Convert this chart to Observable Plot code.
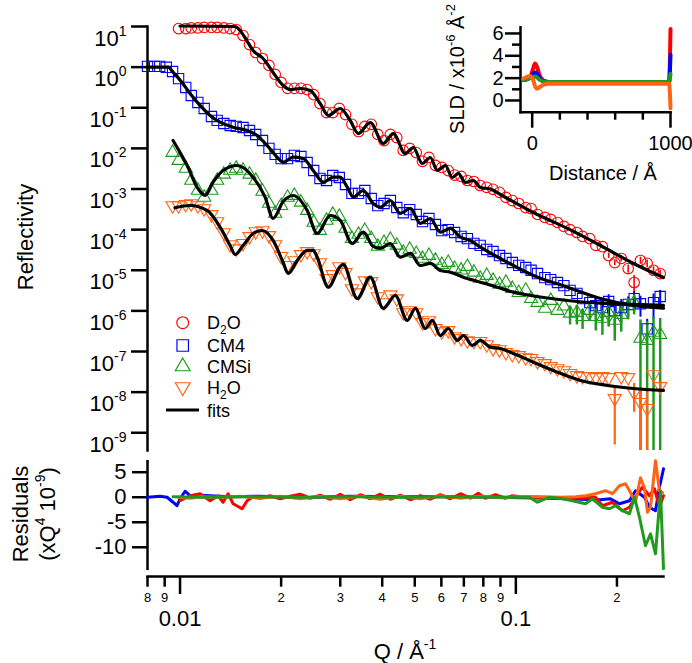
<!DOCTYPE html>
<html><head><meta charset="utf-8">
<script src="https://cdn.jsdelivr.net/npm/d3@7"></script>
<script src="https://cdn.jsdelivr.net/npm/@observablehq/plot@0.6"></script>
<style>
body{margin:0;background:#fff;}
#wrap{position:relative;width:692px;height:663px;overflow:hidden;background:#fff;}
#wrap svg{position:absolute;background:transparent;}
</style></head><body><div id="wrap"></div>
<script>
const FONT = '"Liberation Sans", Arial, Helvetica, sans-serif';
const RED = "#ff0000", BLUE = "#0000ff", GREEN = "#1f9a1f", ORANGE = "#ff6414";

// ---------- data: measured reflectivity (shared Q grid) ----------
const qData = [0.0080,0.0084,0.0087,0.0091,0.0095,0.0099,0.0104,0.0108,0.0113,0.0118,0.0124,0.0129,0.0135,0.0141,0.0147,0.0154,0.0161,0.0168,0.0176,0.0184,0.0192,0.0200,0.0209,0.0219,0.0229,0.0239,0.0250,0.0261,0.0273,0.0285,0.0298,0.0311,0.0325,0.0340,0.0355,0.0371,0.0388,0.0405,0.0423,0.0442,0.0462,0.0483,0.0505,0.0527,0.0551,0.0576,0.0602,0.0629,0.0657,0.0687,0.0717,0.0750,0.0783,0.0819,0.0855,0.0894,0.0934,0.0976,0.102,0.107,0.111,0.116,0.122,0.127,0.133,0.139,0.145,0.152,0.158,0.166,0.173,0.181,0.189,0.197,0.206,0.216,0.225,0.235,0.246,0.257,0.269];

const rD2O = [null,null,null,null,null,
 8.9,8.9,9.2,9.2,9.5,9.5,9.5,9.2,8.9,8.4,
 6.0,3.6,2.29,1.63,1.10,0.66,0.42,0.30,0.30,0.30,
 0.28,0.21,0.127,0.076,0.076,0.096,0.068,0.039,0.026,0.0347,
 0.039,0.022,0.0156,0.022,0.0185,0.0089,0.0100,0.0079,0.0048,0.0060,
 0.0038,0.0034,0.00285,0.0022,0.00204,0.00162,0.00153,0.00122,0.0011,9.8e-4,
 8.3e-4,6.2e-4,5.2e-4,4.4e-4,3.5e-4,3.3e-4,2.36e-4,2.0e-4,1.78e-4,1.5e-4,
 1.2e-4,1.0e-4,8.5e-5,6.8e-5,6.0e-5,4.1e-5,3.8e-5,2.3e-5,1.55e-5,1.95e-5,
 1.1e-5,5.0e-6,1.74e-5,1.48e-5,1.0e-5,8.3e-6];

const rCM4 = [1.04,1.04,1.04,0.99,0.78,0.52,0.316,0.20,0.135,0.096,
 0.061,0.049,0.041,0.0366,0.0347,0.0327,0.0275,0.022,0.0156,0.0100,
 0.0071,0.0056,0.0056,0.0067,0.0063,0.0045,0.00286,0.00182,0.00162,0.00215,
 0.00192,0.00129,7.8e-4,7.8e-4,9.2e-4,5.85e-4,3.9e-4,4.4e-4,5.2e-4,3.5e-4,
 2.6e-4,3.1e-4,2.36e-4,1.58e-4,1.88e-4,1.34e-4,9.5e-5,1.0e-4,8.5e-5,6.8e-5,
 6.0e-5,4.6e-5,4.1e-5,3.25e-5,2.9e-5,2.3e-5,1.95e-5,1.55e-5,1.32e-5,1.17e-5,
 1.0e-5,8.3e-6,6.6e-6,5.9e-6,5.0e-6,4.2e-6,3.2e-6,2.7e-6,2.0e-6,1.6e-6,
 1.35e-6,1.2e-6,1.7e-6,1.02e-6,1.2e-6,1.45e-6,2.0e-6,1.5e-6,3.6e-7,1.6e-6,
 2.26e-6];

const rCMSi = [null,null,null,null,
 0.0079,0.0050,0.0032,0.00162,0.00092,0.00062,
 0.00092,0.00162,0.0023,0.00286,0.0032,0.00286,0.0023,0.00162,8.7e-4,4.4e-4,
 2.5e-4,3.9e-4,6.2e-4,6.9e-4,4.7e-4,2.95e-4,1.5e-4,9.5e-5,1.68e-4,2.36e-4,
 2.1e-4,1.07e-4,6.0e-5,7.6e-5,9.5e-5,6.0e-5,3.85e-5,4.8e-5,5.7e-5,4.1e-5,
 2.75e-5,3.25e-5,2.57e-5,1.95e-5,2.3e-5,1.74e-5,1.38e-5,1.55e-5,1.1e-5,1.0e-5,
 1.23e-5,8.9e-6,6.3e-6,7.4e-6,5.6e-6,4.5e-6,5.0e-6,3.55e-6,2.8e-6,3.2e-6,
 2.0e-6,1.6e-6,1.15e-6,1.8e-6,1.02e-6,1.3e-6,8.7e-7,9.1e-7,7.2e-7,1.02e-6,
 7.2e-7,6.5e-7,9.1e-7,5.8e-7,8.1e-7,1.3e-6,1.6e-6,2.1e-7,1.86e-7,2.95e-7,
 2.6e-7];

const rH2O = [null,null,null,null,
 3.9e-4,3.9e-4,4.2e-4,4.4e-4,3.9e-4,3.3e-4,
 2.36e-4,1.58e-4,8.5e-5,4.3e-5,3.4e-5,4.6e-5,6.8e-5,9.0e-5,9.5e-5,7.2e-5,
 4.3e-5,2.2e-5,1.32e-5,1.74e-5,2.45e-5,2.9e-5,2.57e-5,1.55e-5,6.3e-6,7.9e-6,
 1.23e-5,8.9e-6,3.55e-6,2.8e-6,5.6e-6,5.3e-6,2.26e-6,1.6e-6,2.5e-6,2.0e-6,
 9.1e-7,1.02e-6,9.1e-7,5.2e-7,5.8e-7,3.7e-7,3.1e-7,3.3e-7,2.34e-7,2.1e-7,
 1.86e-7,1.78e-7,1.78e-7,1.48e-7,1.19e-7,1.12e-7,9.5e-8,8.5e-8,8.0e-8,7.1e-8,
 6.8e-8,5.7e-8,5.1e-8,4.3e-8,3.8e-8,3.4e-8,2.9e-8,2.57e-8,2.43e-8,2.43e-8,
 2.3e-8,2.43e-8,2.3e-8,7.0e-9,2.43e-8,2.3e-8,9.8e-9,5.6e-9,4.0e-9,2.7e-8,
 1.38e-8];

// ---------- error bars (Q, lower, upper) ----------
const barQD2O = [0.189,0.197,0.206,0.216,0.225,0.235,0.246,0.257,0.269];
const barLoD2O = [1.95e-5,1.3e-5,1.6e-5,8.5e-6,2.7e-6,1.4e-5,1.15e-5,7.8e-6,6.5e-6];
const barHiD2O = [2.65e-5,1.8e-5,2.3e-5,1.35e-5,7.4e-6,2.1e-5,1.8e-5,1.22e-5,1.0e-5];
const barQCM4 = [0.173,0.181,0.189,0.197,0.206,0.216,0.225,0.235,0.246,0.257,0.269];
const barLoCM4 = [7e-7,6e-7,9e-7,4e-7,5e-7,7e-7,1.0e-6,7e-7,1e-7,6e-7,1.3e-6];
const barHiCM4 = [2.0e-6,1.8e-6,2.5e-6,1.6e-6,1.9e-6,2.2e-6,3.0e-6,2.3e-6,6.2e-7,2.6e-6,3.2e-6];
const barQCMSi = [0.145,0.152,0.158,0.166,0.173,0.181,0.189,0.197,0.206,0.216,0.225,0.235,0.246,0.257,0.269];
const barLoCMSi = [4.5e-7,4.5e-7,3.5e-7,5.5e-7,3.2e-7,2.5e-7,4e-7,1.8e-7,3e-7,6e-7,8e-7,1e-11,1e-11,1e-11,1e-11];
const barHiCMSi = [1.3e-6,1.35e-6,1.1e-6,1.5e-6,1.12e-6,1.05e-6,1.4e-6,9.8e-7,1.3e-6,2.0e-6,2.4e-6,6e-7,5.5e-7,7e-7,6.5e-7];
const barQH2O = [0.197,0.225,0.235,0.246,0.269];
const barLoH2O = [5e-10,3.2e-9,1e-11,1e-11,1.0e-8];
const barHiH2O = [1.32e-8,1.64e-8,1.2e-8,1.0e-8,1.75e-8];

// ---------- fits ----------
const fitQD2O = [0.0100,0.01459,0.01509,0.01580,0.01650,0.01767,0.01893,0.02028,0.02128,0.02279,0.02441,0.02614,0.02762,0.02999,0.03212,0.03393,0.03684,0.04029,0.04315,0.04685,0.04950,0.05265,0.05563,0.05834,0.06165,0.06468,0.06741,0.07072,0.07471,0.07839,0.08395,0.08992,0.1128,0.1424,0.1786,0.2240,0.2752];
const fitRD2O = [10.3,10.0,7.97,4.52,2.57,1.63,0.738,0.353,0.281,0.298,0.266,0.127,0.0645,0.0959,0.0486,0.0232,0.0434,0.0132,0.0232,0.00748,0.0105,0.00425,0.00597,0.00286,0.00379,0.00192,0.00241,0.00145,0.00162,0.00109,0.00100,7.33e-4,2.64e-4,1.07e-4,4.07e-5,1.47e-5,6.64e-6];
const fitQCM4 = [0.0080,0.00921,0.00953,0.01012,0.01071,0.01147,0.01229,0.01316,0.01439,0.01584,0.01696,0.01816,0.01946,0.02028,0.02172,0.02326,0.02492,0.02669,0.02858,0.02999,0.03147,0.03279,0.03512,0.03761,0.03947,0.04226,0.04527,0.04849,0.05194,0.05563,0.05957,0.06380,0.06834,0.07319,0.07839,0.08992,0.1128,0.1424,0.1786,0.2240,0.2752];
const fitRCM4 = [0.996,0.996,0.750,0.426,0.224,0.114,0.0645,0.0441,0.0332,0.0276,0.0208,0.0118,0.00607,0.00457,0.00607,0.00564,0.00286,0.00147,0.00195,0.00195,0.00111,6.29e-4,9.2e-4,4.40e-4,3.57e-4,5.22e-4,2.50e-4,3.32e-4,1.42e-4,1.88e-4,8.65e-5,1.07e-4,6.52e-5,5.41e-5,3.70e-5,1.95e-5,7.44e-6,3.83e-6,2.02e-6,1.36e-6,1.17e-6];
const fitQCMSi = [0.00953,0.01056,0.01124,0.01187,0.01254,0.01343,0.01479,0.01650,0.01792,0.01893,0.02028,0.02172,0.02391,0.02561,0.02800,0.02999,0.03257,0.03512,0.03761,0.03947,0.04226,0.04527,0.04849,0.05194,0.05563,0.05957,0.06380,0.06976,0.07839,0.08809,0.09829,0.1105,0.1424,0.1786,0.2240,0.2752];
const fitRCMSi = [0.0156,0.00344,0.00111,6.93e-4,0.00147,0.00286,0.00379,0.00195,6.29e-4,1.88e-4,4.93e-4,6.93e-4,2.96e-4,8.04e-5,2.23e-4,1.68e-4,4.56e-5,8.65e-5,3.85e-5,3.44e-5,4.56e-5,2.10e-5,2.59e-5,1.31e-5,1.47e-5,9.88e-6,8.97e-6,6.76e-6,5.09e-6,3.83e-6,2.89e-6,2.39e-6,1.80e-6,1.55e-6,1.44e-6,1.36e-6];
const fitQH2O = [0.00966,0.01071,0.01204,0.01316,0.01409,0.01459,0.01541,0.01650,0.01755,0.01893,0.02028,0.02099,0.02233,0.02391,0.02492,0.02561,0.02762,0.02999,0.03061,0.03370,0.03684,0.04029,0.04375,0.04750,0.05018,0.05375,0.05639,0.05957,0.06293,0.06694,0.06976,0.07420,0.07839,0.08395,0.08992,0.09829,0.1128,0.1330,0.1557,0.1874,0.2240,0.2752];
const fitRH2O = [3.45e-4,3.93e-4,2.96e-4,1.15e-4,4.07e-5,2.44e-5,4.07e-5,8.04e-5,9.53e-5,5.41e-5,1.55e-5,8.33e-6,1.74e-5,3.07e-5,3.07e-5,2.10e-5,3.83e-6,1.24e-5,1.39e-5,2.02e-6,6.76e-6,1.15e-6,2.39e-6,5.81e-7,1.15e-6,3.69e-7,5.81e-7,2.48e-7,3.69e-7,1.87e-7,2.48e-7,1.41e-7,1.87e-7,1.28e-7,1.19e-7,8.95e-8,5.47e-8,3.10e-8,1.94e-8,1.46e-8,1.23e-8,1.10e-8];

// ---------- residuals (x Q^4 1e-9) ----------
const resQCM4 = [0.0080,0.00872,0.00915,0.00953,0.00979,0.0100,0.01035,0.01071,0.01147,0.01409,0.01732,0.02279,0.03212,0.04527,0.0638,0.08992,0.1267,0.1557,0.1786,0.1912,0.2035,0.2179,0.2271,0.2415,0.2500,0.2605,0.2677,0.2752];
const resCM4 = [0,0.2,0,-1.0,-1.7,-0.3,1.2,0.3,0.4,0.1,0.2,-0.1,0.2,0.1,0.1,0,-0.2,-0.4,-0.5,-0.3,-1.3,-0.7,1.3,0,-2.0,-2.7,2.0,5.7];
const resQD2O = [0.0100,0.01071,0.01147,0.01229,0.01298,0.01343,0.01390,0.01439,0.01530,0.01584,0.01650,0.01732,0.01854,0.01987,0.02128,0.02279,0.02441,0.02614,0.02800,0.02999,0.03212,0.03440,0.03684,0.03947,0.04226,0.04527,0.04849,0.05194,0.05563,0.05957,0.06380,0.06834,0.07319,0.07731,0.08111,0.08689,0.09305,0.09762,0.1031,0.1183,0.1360,0.1557,0.1726,0.1811,0.1939,0.2077,0.2179,0.2271,0.2382,0.2500,0.2587,0.2677,0.2752];
const resD2O = [-0.7,0.3,0.7,-0.7,0.3,-1.0,0.7,-1.3,-2.3,-0.7,0.1,-0.2,0.3,-0.3,0.2,0.6,-0.2,0.4,-0.4,0.6,-0.5,0.5,-0.3,0.6,-0.4,0.4,-0.5,0.3,-0.4,0.5,-0.3,0.7,-0.2,0.8,-0.2,0.5,-0.2,0.3,0.1,0,-0.1,-0.2,0,-1.7,-1.0,-2.7,-2.0,0,2.0,0.3,1.7,-2.0,0.3];
const resQH2O = [0.00986,0.01071,0.01147,0.01316,0.01509,0.01732,0.01987,0.02279,0.02614,0.02999,0.03440,0.03947,0.04527,0.05194,0.05957,0.06834,0.07839,0.08992,0.1031,0.1183,0.1360,0.1504,0.1612,0.1726,0.1849,0.1939,0.2035,0.2121,0.2179,0.2271,0.2350,0.2415,0.2466,0.2518,0.2605,0.2677,0.2733];
const resH2O = [0,-0.2,0.1,0,0.2,-0.2,0.2,-0.3,0.2,-0.3,0.2,-0.4,0.2,-0.3,0.3,-0.2,0.2,-0.1,0.1,0.1,0,0.1,0.3,0.7,1.3,0.7,2.3,2.7,1.3,-1.0,3.9,1.9,-3.0,-2.0,7.3,1.3,0.9];
const resQCMSi = [0.00953,0.01147,0.01617,0.02279,0.03212,0.04527,0.06380,0.08992,0.1031,0.1097,0.1159,0.1259,0.1376,0.1474,0.1612,0.1690,0.1811,0.1899,0.1980,0.2077,0.2179,0.2255,0.2334,0.2432,0.2518,0.2605,0.2696,0.2752];
const resCMSi = [0.1,0,0.1,0,0.1,0,0.1,0,0,0,-1.0,0,-0.3,-0.7,-1.3,-0.3,-2.0,-2.3,-1.7,-2.7,-3.3,0,-4.0,-9.7,-7.3,-11.3,1.3,-14.3];

// ---------- SLD profiles (inset) ----------
const distProfile = [-65,-40,-15,5,20,35,55,80,120,990,1000];
const sldD2O = [1.85,1.9,2.1,2.8,3.3,3.0,2.2,1.8,1.64,1.64,6.4];
const sldCM4 = [1.85,1.9,2.05,2.35,2.5,2.4,2.0,1.75,1.66,1.66,4.1];
const sldCMSi = [1.85,1.9,2.0,2.1,2.15,2.05,1.85,1.7,1.66,1.66,2.4];
const sldH2O = [1.95,2.1,2.2,1.9,1.3,1.05,1.2,1.4,1.5,1.5,-0.7];

// ---------- axis ticks / labels ----------
const yTickExps = [1,0,-1,-2,-3,-4,-5,-6,-7,-8,-9];
const resTicks = [5,0,-5,-10];
const xMinorTicks = [0.008,0.009,0.02,0.03,0.04,0.05,0.06,0.07,0.08,0.09,0.2];
const xMinorLabels = ["8","9","2","3","4","5","6","7","8","9","2"];
const xMajorTicks = [0.01,0.1];
const xMajorLabels = ["0.01","0.1"];
const insetYTicks = [0,2,4,6], insetYMinor = [1,3,5];
const insetXTicks = [0,1000], insetXMinor = [200,400,600,800];

const X_DOMAIN = [0.008, 0.2752];
const Y_DOMAIN = [3.66e-10, 10];

const series = [
  {r: rD2O, color: RED, symbol: "circle", rot: 0, size: 5.3, bq: barQD2O, blo: barLoD2O, bhi: barHiD2O, bw: 1.6, fq: fitQD2O, fr: fitRD2O, rq: resQD2O, rv: resD2O, dist: distProfile, sld: sldD2O},
  {r: rCM4, color: BLUE, symbol: "square", rot: 0, size: 5.8, bq: barQCM4, blo: barLoCM4, bhi: barHiCM4, bw: 2, fq: fitQCM4, fr: fitRCM4, rq: resQCM4, rv: resCM4, dist: distProfile, sld: sldCM4},
  {r: rCMSi, color: GREEN, symbol: "triangle", rot: 0, size: 4.9, bq: barQCMSi, blo: barLoCMSi, bhi: barHiCMSi, bw: 2.5, fq: fitQCMSi, fr: fitRCMSi, rq: resQCMSi, rv: resCMSi, dist: distProfile, sld: sldCMSi},
  {r: rH2O, color: ORANGE, symbol: "triangle", rot: 180, size: 4.9, bq: barQH2O, blo: barLoH2O, bhi: barHiH2O, bw: 2.2, fq: fitQH2O, fr: fitRH2O, rq: resQH2O, rv: resH2O, dist: distProfile, sld: sldH2O}
];

const wrap = document.getElementById("wrap");
function place(svg, left, top) {
  svg.style.position = "absolute"; svg.style.left = left + "px"; svg.style.top = top + "px";
  svg.style.background = "transparent"; svg.style.overflow = "visible";
  wrap.appendChild(svg); return svg;
}
const baseStyle = {fontFamily: FONT, background: "transparent", overflow: "visible", color: "#000"};

// ---------- main reflectivity panel ----------
const mainMarks = [];
for (const s of series) {
  const bars = s.bq.map((q, i) => ({q, lo: s.blo[i], hi: s.bhi[i]}));
  mainMarks.push(Plot.ruleX(bars, {x: "q", y1: "lo", y2: "hi", stroke: s.color, strokeWidth: s.bw, clip: true}));
}
for (const s of series) {
  const pts = qData.map((q, i) => ({q, r: s.r[i]})).filter(d => d.r != null);
  mainMarks.push(Plot.dot(pts, {x: "q", y: "r", symbol: s.symbol, r: s.size, rotate: s.rot, stroke: s.color, strokeWidth: 1.1, fill: "none"}));
}
for (const s of series) {
  const fit = s.fq.map((q, i) => ({q, r: s.fr[i]}));
  mainMarks.push(Plot.line(fit, {x: "q", y: "r", stroke: "#000", strokeWidth: 3.2, curve: "monotone-x", strokeLinejoin: "round"}));
}
const main = Plot.plot({
  width: 692, height: 455, marginLeft: 147, marginRight: 29, marginTop: 26, marginBottom: 5,
  style: baseStyle,
  x: {type: "log", domain: X_DOMAIN, axis: null},
  y: {type: "log", domain: Y_DOMAIN},
  marks: [
    Plot.axisY({ticks: yTickExps.map(e => Math.pow(10, e)), tickSize: 16, tickPadding: 5, fontSize: 22, strokeWidth: 2.5, label: null,
      tickFormat: d => "10^" + Math.round(Math.log10(d))}),
    Plot.frame({anchor: "left", strokeWidth: 2.5}),
    ...mainMarks
  ]
});
place(main, 0, 0);
d3.select(main).selectAll('g[aria-label="y-axis tick label"] text').each(function() {
  const t = d3.select(this);
  const s = t.text();
  if (!s.includes("^")) return;
  const [base, exp] = s.split("^");
  t.text(base).attr("dy", "12");
  t.append("tspan").attr("dy", -10).attr("font-size", 14).text(exp);
});

// ---------- residuals panel ----------
const resOrder = [1, 0, 3, 2];
const resid = Plot.plot({
  width: 692, height: 126, marginLeft: 147, marginRight: 29, marginTop: 10.7, marginBottom: 7.7,
  style: baseStyle,
  x: {type: "log", domain: X_DOMAIN, axis: null},
  y: {domain: [-14.3, 7.2]},
  marks: [
    Plot.axisY({ticks: resTicks, tickSize: 15, tickPadding: 6, fontSize: 22, strokeWidth: 2.5, label: null, tickFormat: d => String(d)}),
    Plot.frame({anchor: "left", strokeWidth: 2.5}),
    ...resOrder.map(k => {
      const s = series[k];
      return Plot.line(s.rq.map((q, i) => ({q, v: s.rv[i]})), {x: "q", y: "v", stroke: s.color, strokeWidth: 3, strokeLinejoin: "round"});
    })
  ]
});
place(resid, 0, 450);

// ---------- shared Q axis ----------
const minorLab = xMinorTicks.map((t, i) => ({t, label: xMinorLabels[i]}));
const xaxis = Plot.plot({
  width: 692, height: 93, marginLeft: 147, marginRight: 29, marginTop: 0, marginBottom: 87,
  style: baseStyle,
  x: {type: "log", domain: X_DOMAIN},
  marks: [
    Plot.frame({anchor: "bottom", strokeWidth: 2.5}),
    Plot.axisX({ticks: xMinorTicks, tickSize: 10.7, strokeWidth: 2.5, label: null, tickFormat: () => ""}),
    Plot.text(minorLab, {x: "t", text: "label", frameAnchor: "bottom", dy: 21.3, fontSize: 13, lineAnchor: "middle"}),
    Plot.axisX({ticks: xMajorTicks, tickSize: 18, tickPadding: 16, fontSize: 22, strokeWidth: 2.5, label: null,
      tickFormat: d => xMajorLabels[xMajorTicks.indexOf(d)]})
  ]
});
place(xaxis, 0, 570);

// ---------- inset SLD profiles ----------
const inset = Plot.plot({
  width: 252, height: 190, marginLeft: 80, marginRight: 22, marginTop: 26.7, marginBottom: 78.3,
  style: baseStyle,
  x: {domain: [-84.6, 1000]},
  y: {domain: [-1.05, 6.56]},
  marks: [
    Plot.axisY({ticks: insetYTicks, tickSize: 15, tickPadding: 2, fontSize: 20, strokeWidth: 2.5, label: null, tickFormat: d => String(d)}),
    Plot.axisY({ticks: insetYMinor, tickSize: 8, strokeWidth: 2.5, label: null, tickFormat: () => ""}),
    Plot.axisX({ticks: insetXTicks, tickSize: 16, tickPadding: 8, fontSize: 20, strokeWidth: 2.5, label: null, tickFormat: d => String(d)}),
    Plot.axisX({ticks: insetXMinor, tickSize: 8, strokeWidth: 2.5, label: null, tickFormat: () => ""}),
    Plot.frame({anchor: "left", strokeWidth: 2.5}),
    Plot.frame({anchor: "bottom", strokeWidth: 2.5}),
    ...series.map(s => Plot.line(s.dist.map((d, i) => ({d, v: s.sld[i]})), {x: "d", y: "v", stroke: s.color, strokeWidth: 4, curve: "monotone-x"}))
  ]
});
place(inset, 440, 0);

// ---------- overlay: titles & legend ----------
const ov = d3.create("svg").attr("width", 692).attr("height", 663).attr("font-family", FONT).attr("fill", "#000");
function rich(sel, parts, size) {
  let shift = 0;
  for (const [s, kind] of parts) {
    const target = kind === "sup" ? -0.45 * size : kind === "sub" ? 0.28 * size : 0;
    const ts = sel.append("tspan").attr("dy", target - shift).text(s);
    if (kind) ts.attr("font-size", Math.round(size * 0.64));
    shift = target;
  }
}
function label(x, y, parts, size, rotate) {
  const t = ov.append("text").attr("font-size", size).attr("text-anchor", "middle")
    .attr("transform", `translate(${x},${y})` + (rotate ? " rotate(-90)" : ""));
  rich(t, parts, size);
  return t;
}
label(33, 237, [["Reflectivity", ""]], 22, true);
label(28, 514, [["Residuals", ""]], 22, true);
label(55, 514, [["(xQ", ""], ["4", "sup"], [" 10", ""], ["-9", "sup"], [")", ""]], 22, true);
label(405, 659, [["Q / Å", ""], ["-1", "sup"]], 22, false);
label(603, 180, [["Distance / Å", ""]], 20, false);
label(464, 69, [["SLD / x10", ""], ["-6", "sup"], [" Å", ""], ["-2", "sup"]], 20, true);

const legendRows = [
  {y: 322.7, parts: [["D", ""], ["2", "sub"], ["O", ""]], s: 0},
  {y: 345.5, parts: [["CM4", ""]], s: 1},
  {y: 366.5, parts: [["CMSi", ""]], s: 2},
  {y: 387, parts: [["H", ""], ["2", "sub"], ["O", ""]], s: 3}
];
const symMap = {circle: d3.symbolCircle, square: d3.symbolSquare, triangle: d3.symbolTriangle};
for (const row of legendRows) {
  const s = series[row.s];
  ov.append("path").attr("d", d3.symbol(symMap[s.symbol], Math.PI * s.size * s.size * 1.25)())
    .attr("transform", `translate(182.7,${row.y}) rotate(${s.rot})`)
    .attr("fill", "none").attr("stroke", s.color).attr("stroke-width", 1.2);
  const t = ov.append("text").attr("x", 207).attr("y", row.y + 6.5).attr("font-size", 18);
  rich(t, row.parts, 18);
}
ov.append("line").attr("x1", 166).attr("x2", 199).attr("y1", 410).attr("y2", 410).attr("stroke", "#000").attr("stroke-width", 3.2);
ov.append("text").attr("x", 207).attr("y", 416.5).attr("font-size", 18).text("fits");
place(ov.node(), 0, 0);
</script></body></html>
